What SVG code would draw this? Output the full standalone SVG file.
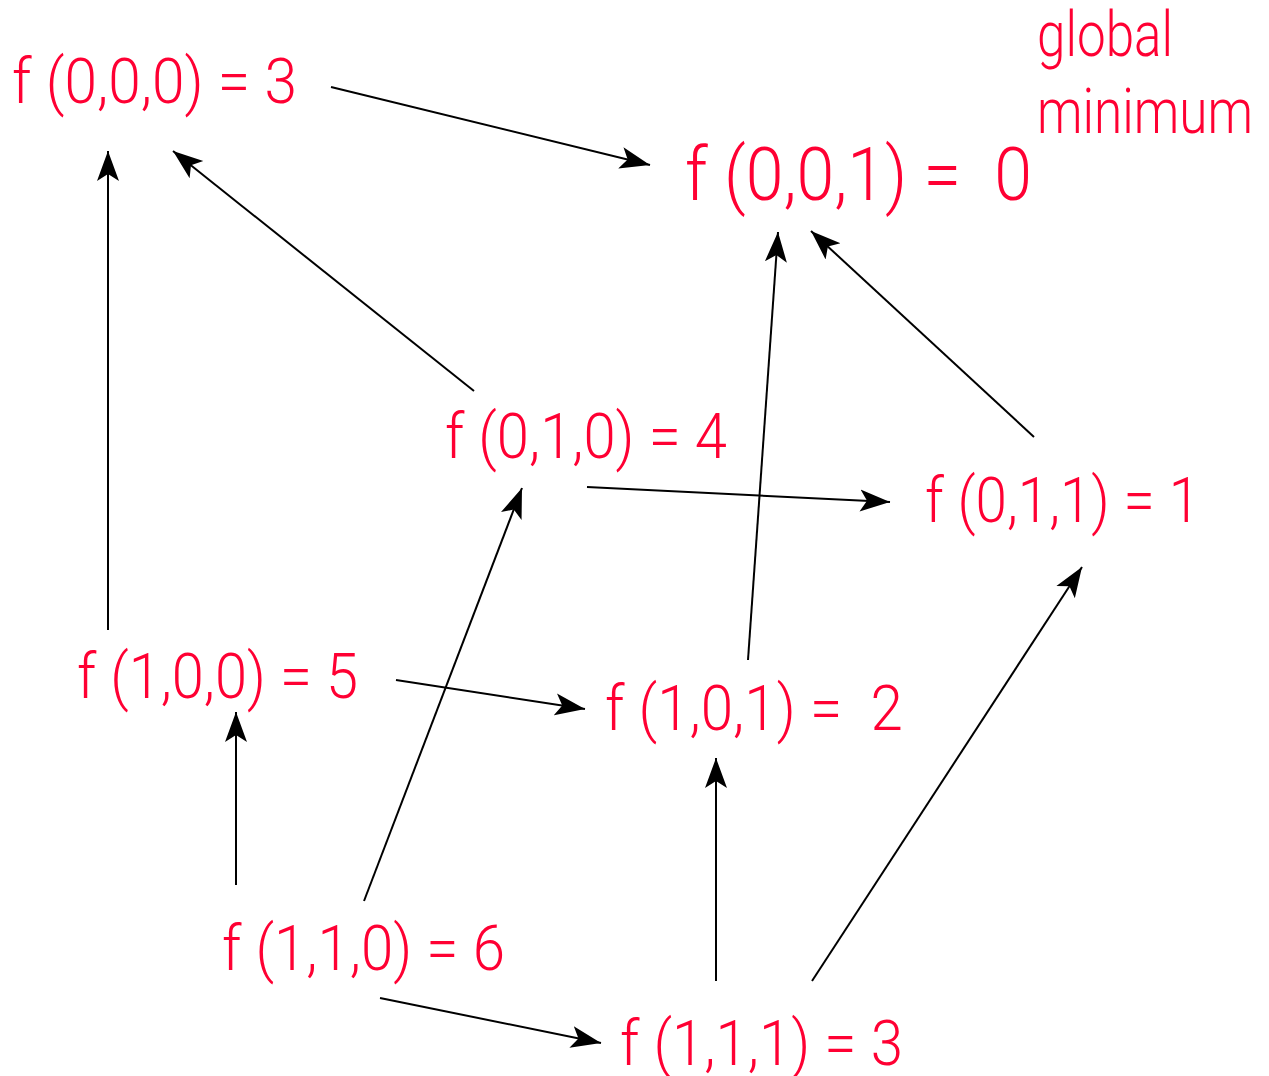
<svg xmlns="http://www.w3.org/2000/svg" width="1269" height="1076" viewBox="0 0 1269 1076">
<style>
.lbl{font-family:Roboto,"Liberation Sans",sans-serif;font-weight:300;fill:#ff0033;font-size:63px}
.big{font-size:74px}
.edge{stroke:#000;stroke-width:2;fill:none;marker-end:url(#ah)}
</style>
<defs>
<marker id="ah" markerUnits="userSpaceOnUse" markerWidth="32" markerHeight="24" viewBox="0 0 32 24" refX="30" refY="12" orient="auto">
<path d="M30,12 L0,1 L7,12 L0,23 Z" fill="#000"/>
</marker>
</defs>
<rect width="1269" height="1076" fill="#fff"/>
<g id="connectors">
<line class="edge" x1="331" y1="87" x2="650" y2="165"/>
<line class="edge" x1="108" y1="630" x2="108" y2="151"/>
<line class="edge" x1="474" y1="391" x2="173" y2="151"/>
<line class="edge" x1="587" y1="487" x2="890" y2="502"/>
<line class="edge" x1="748" y1="660" x2="778" y2="232"/>
<line class="edge" x1="1034" y1="437" x2="811" y2="231"/>
<line class="edge" x1="396" y1="680" x2="585" y2="709"/>
<line class="edge" x1="236" y1="885" x2="236" y2="712"/>
<line class="edge" x1="364" y1="901" x2="522" y2="488"/>
<line class="edge" x1="716" y1="981" x2="716" y2="758"/>
<line class="edge" x1="812" y1="981" x2="1082" y2="567"/>
<line class="edge" x1="380" y1="998" x2="601" y2="1043"/>
</g>
<g id="n000"><text class="lbl" x="12" y="103" textLength="285" lengthAdjust="spacingAndGlyphs">f (0,0,0) = 3</text></g>
<g id="n001"><text class="lbl big" x="685" y="200" textLength="347" lengthAdjust="spacingAndGlyphs" xml:space="preserve">f (0,0,1) =  0</text></g>
<g id="note"><text class="lbl" x="1037" y="56" textLength="136" lengthAdjust="spacingAndGlyphs">global</text><text class="lbl" x="1037" y="133" textLength="216" lengthAdjust="spacingAndGlyphs">minimum</text></g>
<g id="n010"><text class="lbl" x="445" y="458" textLength="282" lengthAdjust="spacingAndGlyphs">f (0,1,0) = 4</text></g>
<g id="n011"><text class="lbl" x="925" y="522" textLength="275" lengthAdjust="spacingAndGlyphs">f (0,1,1) = 1</text></g>
<g id="n100"><text class="lbl" x="77" y="698" textLength="281" lengthAdjust="spacingAndGlyphs">f (1,0,0) = 5</text></g>
<g id="n101"><text class="lbl" x="605" y="730" textLength="298" lengthAdjust="spacingAndGlyphs" xml:space="preserve">f (1,0,1) =  2</text></g>
<g id="n110"><text class="lbl" x="222" y="970" textLength="283" lengthAdjust="spacingAndGlyphs">f (1,1,0) = 6</text></g>
<g id="n111"><text class="lbl" x="620" y="1065" textLength="283" lengthAdjust="spacingAndGlyphs">f (1,1,1) = 3</text></g>
</svg>
